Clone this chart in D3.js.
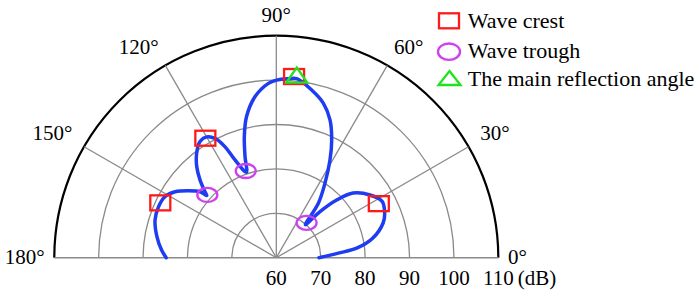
<!DOCTYPE html>
<html><head><meta charset="utf-8"><script src="https://cdn.jsdelivr.net/npm/d3@7"></script></head>
<body style="margin:0">
<svg id="s" width="700" height="291" style="display:block" font-family="Liberation Serif"></svg>
<script>
// ---- data ----
const curveAngles = [0, 4.2, 7, 11.5, 18, 22.4, 28, 33.8, 40.1, 43.7, 46.5, 48.6, 52.3, 56.8, 61.2, 64.8, 68.7, 73.1, 78.1, 83.5, 86.2, 89.9, 92.6, 97.5, 101.9, 104.8, 107.2, 109.3, 112.9, 114.8, 117.2, 119.9, 123.3, 127.3, 131.2, 134.5, 137.2, 138.2, 139.1, 142.7, 146.9, 151.3, 156.6, 162.7, 170, 176.2, 180];
const curveLevels = [69.6, 74.0, 78.5, 82.2, 85.3, 86.4, 87.0, 85.4, 82.6, 78.8, 74.3, 69.9, 75.5, 80.0, 85.1, 89.3, 93.3, 96.4, 98.6, 100.6, 100.4, 100.0, 99.3, 96.6, 92.5, 88.2, 83.8, 80.4, 83.9, 87.5, 90.2, 91.4, 91.3, 89.6, 87.2, 84.5, 81.9, 81.0, 82.7, 84.9, 87.2, 88.6, 88.9, 88.6, 87.3, 85.9, 84.8];

const crestAngles = [84.4, 120.7, 154.7, 27.8];
const crestLevels = [101.0, 91.3, 88.9, 86.1];
const troughAngles = [49.0, 109.4, 137.7];
const troughLevels = [70.4, 80.7, 81.0];
const mainAngle = [83.6];
const mainLevel = [101.4];

const radialTicks = [60, 70, 80, 90, 100, 110];
const spokeAngles = [30, 60, 90, 120, 150];
const angleLabels = [0, 30, 60, 90, 120, 150, 180];
const unitLabel = "(dB)";
const legendLabels = ["Wave crest", "Wave trough", "The main reflection angle"];

// ---- layout ----
const cx = 276.3, cy = 257.7, R = 222;
const svg = d3.select("#s");
const r = d3.scaleLinear().domain([60, 110]).range([0, R]);
const rad = d => d * Math.PI / 180;
const px = (a, v) => cx + r(v) * Math.cos(rad(a));
const py = (a, v) => cy - r(v) * Math.sin(rad(a));

const RED = "#ff1a1a", PINK = "#d040ee", GREEN = "#1ee31e", BLUE = "#1f3cf2", GRID = "#8a8a8a";

// texts first (same structure as a plain text list)
function label(x, y, txt, size, anchor) {
  return svg.append("text").attr("x", x).attr("y", y).attr("font-size", size)
    .attr("font-family", "Liberation Serif")
    .style("font-family", "Liberation Serif, Times New Roman")
    .attr("text-anchor", anchor || "start").text(txt);
}

// grid arcs
const g = svg.append("g");
radialTicks.slice(1).forEach(v => {
  const p = d3.path();
  p.moveTo(cx + r(v), cy);
  p.arc(cx, cy, r(v), 0, -Math.PI, true);
  g.append("path").attr("d", p.toString()).attr("fill", "none")
    .attr("stroke", v === 110 ? "#000" : GRID)
    .attr("stroke-width", v === 110 ? 2.2 : 1.3);
});
// spokes
spokeAngles.forEach(a => {
  g.append("line").attr("x1", cx).attr("y1", cy)
    .attr("x2", px(a, 110)).attr("y2", py(a, 110))
    .attr("stroke", GRID).attr("stroke-width", 1.3);
});
// baseline
g.append("line").attr("x1", cx - R).attr("y1", cy).attr("x2", cx + R).attr("y2", cy)
  .attr("stroke", GRID).attr("stroke-width", 1.5);

// angle labels
const LA = 235.5;
angleLabels.forEach(a => {
  let x, y, anchor;
  if (a === 0 || a === 180) {
    x = cx + (a === 0 ? 1 : -1) * 231.7; y = cy + 6;
    anchor = a === 0 ? "start" : "end";
  } else {
    x = cx + LA * Math.cos(rad(a)); y = cy - LA * Math.sin(rad(a));
    anchor = a < 90 ? "start" : (a > 90 ? "end" : "middle");
  }
  label(x, y, a + "°", 21, anchor);
});
// radial tick labels
radialTicks.forEach(v => label(cx + r(v), 285, String(v), 21, "middle"));
label(cx + R + 19.5, 285, unitLabel, 21, "start");

// curve
const pts = curveAngles.map((a, i) => [rad(90 - a), r(curveLevels[i])]);
const line = d3.lineRadial().angle(d => d[0]).radius(d => d[1]).curve(d3.curveCatmullRom.alpha(0.5));
svg.append("path").attr("transform", `translate(${cx},${cy})`).attr("d", line(pts))
  .attr("fill", "none").attr("stroke", BLUE).attr("stroke-width", 3.5)
  .attr("stroke-linejoin", "round").attr("stroke-linecap", "round");

// markers
function square(sel, x, y, w, h) {
  sel.append("rect").attr("x", x - w / 2).attr("y", y - h / 2).attr("width", w).attr("height", h)
    .attr("fill", "none").attr("stroke", RED).attr("stroke-width", 2.3);
}
function ellipse(sel, x, y, rx, ry) {
  sel.append("ellipse").attr("cx", x).attr("cy", y).attr("rx", rx).attr("ry", ry)
    .attr("fill", "none").attr("stroke", PINK).attr("stroke-width", 2.3);
}
function triangle(sel, x, y, w, h) {
  sel.append("path").attr("d", `M${x},${y - h / 2}L${x + w / 2},${y + h / 2}L${x - w / 2},${y + h / 2}Z`)
    .attr("fill", "none").attr("stroke", GREEN).attr("stroke-width", 2.3);
}
const m = svg.append("g");
crestAngles.forEach((a, i) => square(m, px(a, crestLevels[i]), py(a, crestLevels[i]), 20, 15));
troughAngles.forEach((a, i) => ellipse(m, px(a, troughLevels[i]), py(a, troughLevels[i]), 10, 7));
mainAngle.forEach((a, i) => triangle(m, px(a, mainLevel[i]), py(a, mainLevel[i]), 21, 15));

// legend
const lx = 449, ltx = 467.7;
const rowsY = [20.8, 51.7, 78];
const baseY = [28.3, 58.3, 86];
square(svg, lx, rowsY[0], 20, 15);
ellipse(svg, lx, rowsY[1], 11, 8.2);
triangle(svg, lx + 0.5, rowsY[2], 22, 14);
legendLabels.forEach((t, i) => label(ltx, baseY[i], t, 22, "start"));
</script>
</body></html>
